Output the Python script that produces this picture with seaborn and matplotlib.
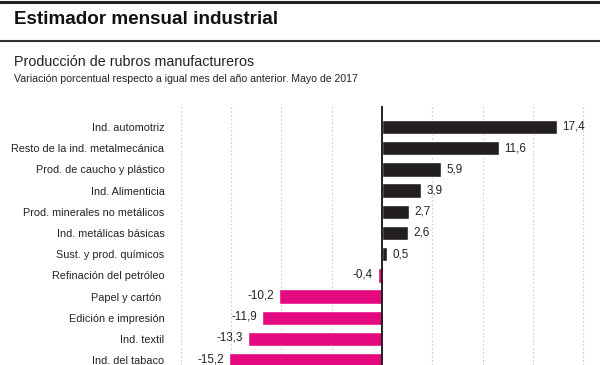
import matplotlib
matplotlib.use("Agg")
import matplotlib.pyplot as plt
import seaborn as sns
import pandas as pd

# datos: variación % interanual, mayo 2017
rubros = ["Ind. automotriz", "Resto de la ind. metalmecánica", "Prod. de caucho y plástico",
          "Ind. Alimenticia", "Prod. minerales no metálicos", "Ind. metálicas básicas",
          "Sust. y prod. químicos", "Refinación del petróleo", "Papel y cartón ",
          "Edición e impresión", "Ind. textil", "Ind. del tabaco"]
variacion = [17.4, 11.6, 5.9, 3.9, 2.7, 2.6, 0.5, -0.4, -10.2, -11.9, -13.3, -15.2]
grid_ticks = [-20, -15, -10, -5, 5, 10, 15, 20]

NEGRO = "#231f20"
MAGENTA = "#e5097f"

df = pd.DataFrame({"rubro": rubros, "var": variacion})
colores = [NEGRO if v >= 0 else MAGENTA for v in variacion]

sns.set_style("white")
plt.rcParams["font.family"] = ["Liberation Sans", "DejaVu Sans"]

fig = plt.figure(figsize=(6, 3.65), dpi=100)
W, H = 600, 365

# titulo y lineas
fig.add_artist(plt.Line2D([0, 1], [1 - 1.5 / H, 1 - 1.5 / H], color="#222222", lw=2.2))
fig.add_artist(plt.Line2D([0, 1], [1 - 41 / H, 1 - 41 / H], color="#333333", lw=1.5))
fig.text(14 / W, 1 - 20 / H, "Estimador mensual industrial", fontsize=13.6, fontweight="bold",
         color="#111111", va="center", ha="left")
fig.text(14 / W, 1 - 62 / H, "Producción de rubros manufactureros", fontsize=10.3,
         color="#222222", va="center", ha="left")
fig.text(14 / W, 1 - 79 / H, "Variación porcentual respecto a igual mes del año anterior. Mayo de 2017",
         fontsize=7.6, color="#222222", va="center", ha="left")

# ejes: cero en x=382, 10.06 px por unidad, fila 0 en y=127, 21.2 px por fila
left_px, top_px = 170, 106
ax = fig.add_axes([left_px / W, 0, 1 - left_px / W, 1 - top_px / H])
sns.barplot(data=df, x="var", y="rubro", hue="rubro", palette=colores, legend=False,
            width=0.68, ax=ax, orient="h", saturation=1)

ppu = 10.06
ax.set_xlim((left_px - 382) / ppu, (W - 382) / ppu)
ax.set_ylim((H - 127) / 21.2, (top_px - 127) / 21.2)

for g in grid_ticks:
    ax.axvline(g, color="#cccccc", lw=0.8, ls=(0, (1.5, 2)), zorder=0)
ax.axvline(0, color="#111111", lw=1.3, zorder=3)

for i, v in enumerate(variacion):
    lab = f"{v:.1f}".replace(".", ",")
    if v >= 0:
        ax.text(v + 0.5, i, lab, va="center", ha="left", fontsize=8.4, color="#222222")
    else:
        ax.text(v - 0.5, i - 0.05, lab, va="center", ha="right", fontsize=8.4, color="#222222")

ax.set_xlabel("")
ax.set_ylabel("")
ax.set_xticks([])
ax.tick_params(axis="y", length=0, pad=4)
for t in ax.get_yticklabels():
    t.set_fontsize(7.8)
    t.set_color("#222222")
sns.despine(ax=ax, left=True, bottom=True)

fig.savefig("out.png", dpi=100)
